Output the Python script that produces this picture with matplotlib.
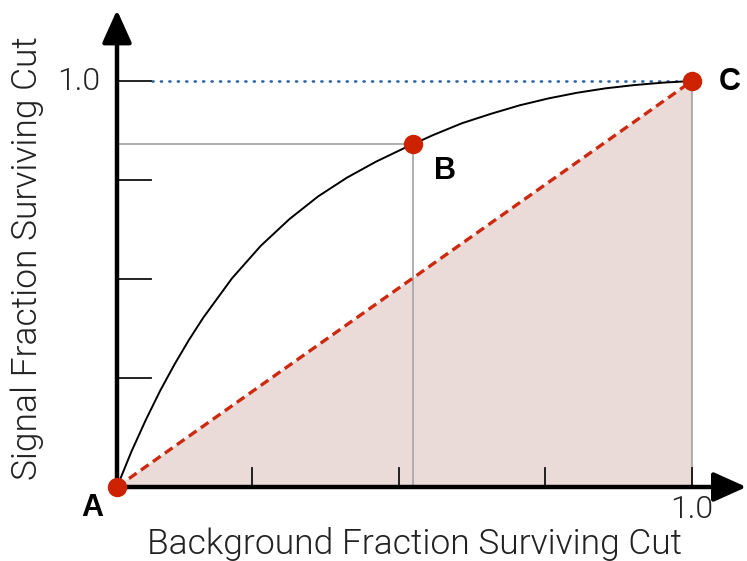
import matplotlib
matplotlib.use("Agg")
import matplotlib.pyplot as plt

# Data
curve_x = [0.0, 0.025, 0.05, 0.075, 0.1, 0.125, 0.15, 0.2, 0.25, 0.3, 0.35, 0.4,
           0.45, 0.5, 0.55, 0.6, 0.65, 0.7, 0.75, 0.8, 0.85, 0.9, 0.95, 1.0]
curve_y = [0.0, 0.087, 0.165, 0.237, 0.302, 0.362, 0.417, 0.514, 0.594, 0.660, 0.716, 0.762,
           0.801, 0.835, 0.867, 0.896, 0.919, 0.940, 0.957, 0.971, 0.982, 0.990, 0.996, 1.0]
point_names = ["A", "B", "C"]
point_x = [0.0, 0.515, 1.0]
point_y = [0.0, 0.845, 1.0]
xticks = [0.235, 0.49, 0.745, 1.0]
yticks = [0.268, 0.512, 0.756, 1.0]
xlabel = "Background Fraction Surviving Cut"
ylabel = "Signal Fraction Surviving Cut"

W, H = 747, 561
fig = plt.figure(figsize=(W / 100, H / 100), dpi=100)
ax = fig.add_axes([0, 0, 1, 1])
ox, oy = 117, 487
sx, sy = 575, 406
ax.set_xlim(-ox / sx, (W - ox) / sx)
ax.set_ylim(-(H - oy) / sy, oy / sy)
ax.axis("off")

FONT = "Roboto"
light = dict(family=FONT, fontweight=300, color="#222222")
bold = dict(family="Liberation Sans", fontweight="bold", color="black")

# shaded triangle under diagonal
ax.fill([0, 1, 1], [0, 1, 0], color="#eadbd8", zorder=1, lw=0)

# gray guide lines
gray = "#a9a9a9"
ax.plot([0, point_x[1]], [point_y[1], point_y[1]], color=gray, lw=1.3, zorder=2)
ax.plot([point_x[1], point_x[1]], [0, point_y[1]], color=gray, lw=1.3, zorder=2)
ax.plot([1, 1], [0, 1], color=gray, lw=1.3, zorder=2)

# dotted blue line at y=1
ax.plot([0.061, 1.0], [1.0, 1.0], color="#2d66a6", lw=1.9,
        linestyle=(0, (0.4, 2.8)), dash_capstyle="round", zorder=2)

# diagonal dashed red
ax.plot([0, 1], [0, 1], color="#cc2a10", lw=2.4, linestyle=(0, (2.8, 1.6)), zorder=3)

# curve
ax.plot(curve_x, curve_y, color="black", lw=1.4, zorder=4, solid_joinstyle="round")

# ticks
for t in xticks:
    ax.plot([t, t], [0, 0.047], color="#111111", lw=1.3, zorder=3)
for t in yticks:
    ax.plot([0, 0.059], [t, t], color="#111111", lw=1.3, zorder=3)

# axes with arrows
ax.annotate("", xy=((W - ox) / sx - 0.001, 0), xytext=(-0.006, 0),
            arrowprops=dict(arrowstyle="-|>,head_length=1.0,head_width=0.45",
                            lw=3.2, color="black", shrinkA=0, shrinkB=0,
                            mutation_scale=20), zorder=5)
ax.annotate("", xy=(0, (oy - 10) / sy), xytext=(0, -0.008),
            arrowprops=dict(arrowstyle="-|>,head_length=1.0,head_width=0.45",
                            lw=3.2, color="black", shrinkA=0, shrinkB=0,
                            mutation_scale=20), zorder=5)

# points
ax.plot(point_x, point_y, "o", color="#cc2200", markersize=14, mec="none", zorder=6)

# labels
ax.text(point_x[0] - 25 / sx, point_y[0] - 21 / sy, point_names[0], ha="center", va="center",
        fontsize=22, **bold)
ax.text(point_x[1] + 32 / sx, point_y[1] - 27 / sy, point_names[1], ha="center", va="center",
        fontsize=22, **bold)
ax.text(point_x[2] + 38 / sx, point_y[2] - 1 / sy, point_names[2], ha="center", va="center",
        fontsize=22, **bold)

ax.text(-17 / sx, 1.0, "1.0", ha="right", va="center", fontsize=23, **light)
ax.text(1.0, -23 / sy, "1.0", ha="center", va="center", fontsize=23, **light)
ax.text((414 - ox) / sx, -(544 - oy) / sy, xlabel, ha="center", va="center", fontsize=25.5, **light)
ax.text(-(ox - 27) / sx, (oy - 258) / sy, ylabel, ha="center", va="center", rotation=90,
        fontsize=25.5, **light)

fig.savefig("out.png", dpi=100)
